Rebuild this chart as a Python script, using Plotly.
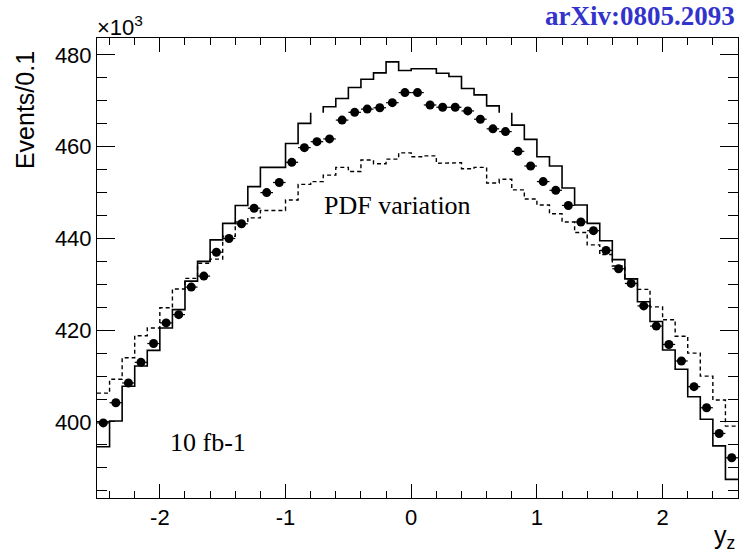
import plotly.graph_objects as go

# ---------------- data (values in units of 10^3 events per 0.1) ----------------
bin_centers = [-2.45, -2.35, -2.25, -2.15, -2.05, -1.95, -1.85, -1.75, -1.65, -1.55,
               -1.45, -1.35, -1.25, -1.15, -1.05, -0.95, -0.85, -0.75, -0.65, -0.55,
               -0.45, -0.35, -0.25, -0.15, -0.05, 0.05, 0.15, 0.25, 0.35, 0.45,
               0.55, 0.65, 0.75, 0.85, 0.95, 1.05, 1.15, 1.25, 1.35, 1.45,
               1.55, 1.65, 1.75, 1.85, 1.95, 2.05, 2.15, 2.25, 2.35, 2.45, 2.55]
bin_width = 0.1

solid_values = [394.6, 400.2, 407.8, 412.2, 415.6, 420.5, 424.5, 430.7, 435.0, 439.7,
                443.3, 447.2, 451.3, 455.5, 455.5, 460.7, 465.1, 467.4, 468.7, 470.5,
                472.9, 474.7, 476.1, 478.5, 476.6, 477.0, 477.0, 476.0, 475.3, 472.7,
                471.3, 468.9, 467.4, 464.7, 461.6, 457.8, 455.8, 451.0, 447.3, 443.3,
                439.5, 435.4, 431.2, 426.2, 421.9, 415.7, 411.5, 405.5, 400.6, 394.8, 387.5]

dashed_values = [406.3, 409.3, 414.0, 418.8, 420.5, 424.9, 429.0, 431.3, 434.6, 435.5,
                 440.5, 443.6, 444.5, 446.1, 446.1, 448.4, 451.8, 452.4, 453.8, 455.5,
                 454.6, 457.1, 456.3, 457.3, 458.65, 457.8, 458.0, 456.4, 456.5, 455.2,
                 455.5, 452.1, 452.9, 450.6, 448.6, 447.3, 445.4, 443.6, 441.3, 438.6,
                 436.5, 434.0, 431.2, 428.9, 425.1, 422.3, 418.7, 415.0, 410.0, 404.8, 399.1]

points_values = [399.8, 404.2, 408.5, 413.0, 417.1, 421.6, 423.4, 429.4, 431.8, 437.0,
                 440.0, 443.2, 446.6, 450.0, 452.2, 456.6, 459.8, 461.1, 461.7, 465.8,
                 467.5, 468.2, 468.5, 469.6, 471.8, 471.8, 469.1, 468.6, 468.6, 467.8,
                 466.0, 463.9, 463.3, 459.0, 455.8, 452.4, 450.5, 447.2, 443.6, 441.7,
                 437.4, 433.4, 430.2, 425.3, 420.9, 416.9, 413.3, 407.7, 403.1, 397.5, 392.2]

# bins whose top segment of the solid histogram is not drawn in the original
solid_gap_centers = [-0.75, 0.75]

x_tickvals = [-2, -1, 0, 1, 2]
x_ticktext = ["-2", "-1", "0", "1", "2"]
y_tickvals = [400, 420, 440, 460, 480]
y_ticktext = ["400", "420", "440", "460", "480"]


def step_path(centers, values, gaps=()):
    xs, ys = [], []
    half = bin_width / 2
    for i, (c, v) in enumerate(zip(centers, values)):
        lo, hi = c - half, c + half
        if i == 0:
            xs.append(lo); ys.append(v)
        if any(abs(c - g) < 1e-9 for g in gaps):
            xs.append(None); ys.append(None)
        xs.append(hi); ys.append(v)
        if i + 1 < len(values):
            xs.append(hi); ys.append(values[i + 1])
    return xs, ys


fig = go.Figure()

sx, sy = step_path(bin_centers, solid_values, solid_gap_centers)
fig.add_trace(go.Scatter(x=sx, y=sy, mode="lines", connectgaps=False,
                         line=dict(color="black", width=1.6), hoverinfo="skip",
                         showlegend=False))

dx, dy = step_path(bin_centers, dashed_values)
fig.add_trace(go.Scatter(x=dx, y=dy, mode="lines",
                         line=dict(color="black", width=1.4, dash="4px,3px"),
                         hoverinfo="skip", showlegend=False))

fig.add_trace(go.Scatter(x=bin_centers, y=points_values, mode="markers",
                         marker=dict(color="black", size=9, symbol="circle"),
                         error_x=dict(type="constant", value=bin_width / 2,
                                      color="black", thickness=1.2, width=0),
                         showlegend=False))

sans = "Liberation Sans, Arial, sans-serif"
axis_font = dict(family=sans, size=22, color="black")

fig.update_xaxes(range=[-2.5, 2.6], tickvals=x_tickvals, ticktext=x_ticktext,
                 ticks="inside", ticklen=14, tickwidth=1, tickcolor="black",
                 minor=dict(ticks="inside", ticklen=7, dtick=0.2, tickcolor="black", tick0=0),
                 showline=True, linecolor="black", linewidth=1, mirror="allticks",
                 showgrid=False, zeroline=False, tickfont=axis_font)
fig.update_yaxes(range=[383.43, 483.7], tickvals=y_tickvals, ticktext=y_ticktext,
                 ticks="inside", ticklen=18, tickwidth=1, tickcolor="black",
                 minor=dict(ticks="inside", ticklen=10, dtick=5, tickcolor="black", tick0=0),
                 showline=True, linecolor="black", linewidth=1, mirror="allticks",
                 showgrid=False, zeroline=False, tickfont=axis_font)

serif = "Liberation Serif, Times New Roman, serif"
annotations = [
    dict(text="PDF variation", x=0.3505, y=0.6348, xanchor="left", yanchor="middle",
         font=dict(family=serif, size=26, color="black")),
    dict(text="10 fb-1", x=0.1103, y=0.1196, xanchor="left", yanchor="middle",
         font=dict(family=serif, size=26, color="black")),
    dict(text="×10<sup>3</sup>", x=-0.003, y=0.992, xanchor="left", yanchor="bottom",
         font=dict(family=sans, size=22, color="black")),
    dict(text="<b>arXiv:0805.2093</b>", x=0.9984, y=1.0489, xanchor="right", yanchor="middle",
         font=dict(family=serif, size=27, color="#3333cc")),
    dict(text="y<sub>z</sub>", x=0.998, y=-0.085, xanchor="right", yanchor="middle",
         font=dict(family=sans, size=25, color="black")),
    dict(text="Events/0.1", x=-0.113, y=0.975, xanchor="center", yanchor="top", textangle=-90,
         font=dict(family=sans, size=25, color="black")),
]
for a in annotations:
    a.update(xref="paper", yref="paper", showarrow=False)
fig.update_layout(annotations=annotations)

fig.update_layout(width=739, height=559,
                  margin=dict(l=97, r=1, t=38, b=61, pad=0),
                  paper_bgcolor="white", plot_bgcolor="white")

fig.write_html("out.html")
